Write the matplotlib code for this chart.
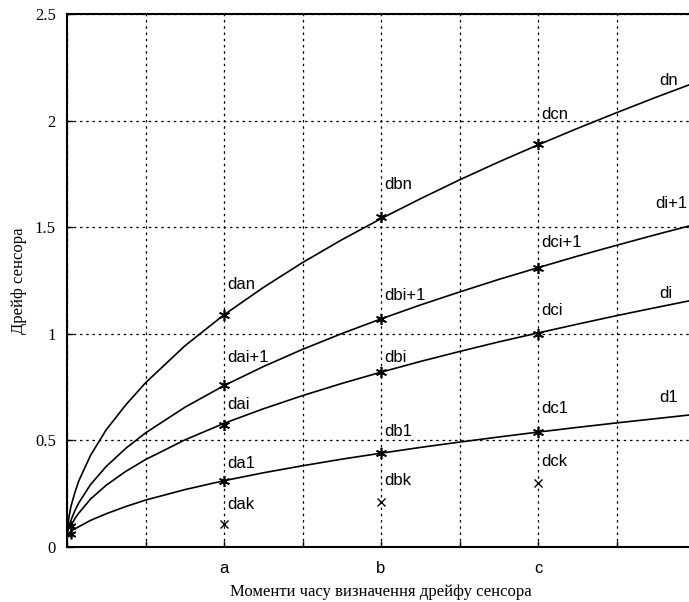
import matplotlib
matplotlib.use("Agg")
import matplotlib.pyplot as plt
from matplotlib.ticker import MultipleLocator

# ---- data ----
x_curve = [0, 0.02, 0.05, 0.1, 0.15, 0.3, 0.5, 0.75, 1, 1.5, 2, 2.5, 3, 3.5, 4, 4.5, 5, 5.5, 6, 6.5, 7, 7.5, 8]
d_n   = [0.07, 0.13, 0.19, 0.255, 0.31, 0.43, 0.55, 0.667, 0.77, 0.943, 1.089, 1.217, 1.334, 1.441, 1.54, 1.633, 1.722, 1.806, 1.886, 1.963, 2.037, 2.109, 2.178]
d_i1  = [0.07, 0.095, 0.125, 0.17, 0.207, 0.293, 0.378, 0.463, 0.535, 0.655, 0.757, 0.846, 0.927, 1.001, 1.07, 1.135, 1.196, 1.255, 1.31, 1.364, 1.415, 1.465, 1.513]
d_i   = [0.07, 0.085, 0.10, 0.133, 0.159, 0.225, 0.29, 0.355, 0.41, 0.502, 0.58, 0.648, 0.71, 0.767, 0.82, 0.87, 0.917, 0.962, 1.004, 1.045, 1.085, 1.123, 1.16]
d_1   = [0.05, 0.062, 0.075, 0.085, 0.095, 0.125, 0.156, 0.19, 0.22, 0.269, 0.311, 0.348, 0.381, 0.412, 0.44, 0.467, 0.492, 0.516, 0.539, 0.561, 0.582, 0.602, 0.622]

x_meas = [2, 4, 6]
m_n  = [1.09, 1.55, 1.89]
m_i1 = [0.76, 1.07, 1.31]
m_i  = [0.57, 0.82, 1.00]
m_1  = [0.31, 0.44, 0.54]
m_k  = [0.11, 0.21, 0.30]

x0_marks = [0.05, 0.05]
y0_marks = [0.10, 0.06]

point_labels = [
    ("dan", 2, 1.23), ("dai+1", 2, 0.89), ("dai", 2, 0.67), ("da1", 2, 0.39), ("dak", 2, 0.20),
    ("dbn", 4, 1.70), ("dbi+1", 4, 1.18), ("dbi", 4, 0.89), ("db1", 4, 0.54), ("dbk", 4, 0.31),
    ("dcn", 6, 2.03), ("dci+1", 6, 1.43), ("dci", 6, 1.11), ("dc1", 6, 0.65), ("dck", 6, 0.40),
]
curve_labels = [("dn", 7.55, 2.19), ("di+1", 7.5, 1.61), ("di", 7.55, 1.19), ("d1", 7.55, 0.70)]

x_ticks = [2, 4, 6]
x_ticklabels = ["a", "b", "c"]
y_ticks = [0, 0.5, 1, 1.5, 2, 2.5]
y_ticklabels = ["0", "0.5", "1", "1.5", "2", "2.5"]

# ---- figure ----
fig = plt.figure(figsize=(6.89, 6.02), dpi=100)
ax = fig.add_axes([67/689, 55/602, 628/689, 533/602])
ax.set_xlim(0, 8)
ax.set_ylim(0, 2.5)

for y in (d_n, d_i1, d_i, d_1):
    ax.plot(x_curve, y, color="black", lw=1.2, clip_on=False)

ast = (6, 2, 0)
for m in (m_n, m_i1, m_i, m_1):
    ax.plot(x_meas, m, linestyle="none", marker=ast, ms=8, mec="black", mew=1.2)
ax.plot(x_meas, m_k, linestyle="none", marker="x", ms=6, mec="black", mew=1.0)
ax.plot(x0_marks, y0_marks, linestyle="none", marker=ast, ms=7, mec="black", mew=1.2)

for t, x, y in point_labels:
    ax.text(x + 0.04, y, t, fontsize=12, family="Liberation Sans", va="center", ha="left")
for t, x, y in curve_labels:
    ax.text(x, y, t, fontsize=12, family="Liberation Sans", va="center", ha="left")

ax.xaxis.set_minor_locator(MultipleLocator(1))
ax.grid(True, which="both", axis="x", color="black", linestyle=(0, (2, 3)), lw=0.9)
ax.grid(True, which="major", axis="y", color="black", linestyle=(0, (2, 3)), lw=0.9)

ax.set_xticks(x_ticks)
ax.set_xticklabels(x_ticklabels, fontsize=12, family="Liberation Sans")
ax.set_yticks(y_ticks)
ax.set_yticklabels(y_ticklabels, fontsize=12, family="Liberation Serif")
ax.tick_params(which="both", direction="in", length=4, width=1, pad=8)
ax.tick_params(axis="x", pad=10)

ax.spines["right"].set_visible(False)
for s in ("top", "left", "bottom"):
    ax.spines[s].set_linewidth(1.5)

ax.set_xlabel("Моменти часу визначення дрейфу сенсора", fontsize=12, family="Liberation Serif", labelpad=6)
ax.set_ylabel("Дрейф сенсора", fontsize=12, family="Liberation Serif", labelpad=6)

fig.savefig("out.png", dpi=100)
